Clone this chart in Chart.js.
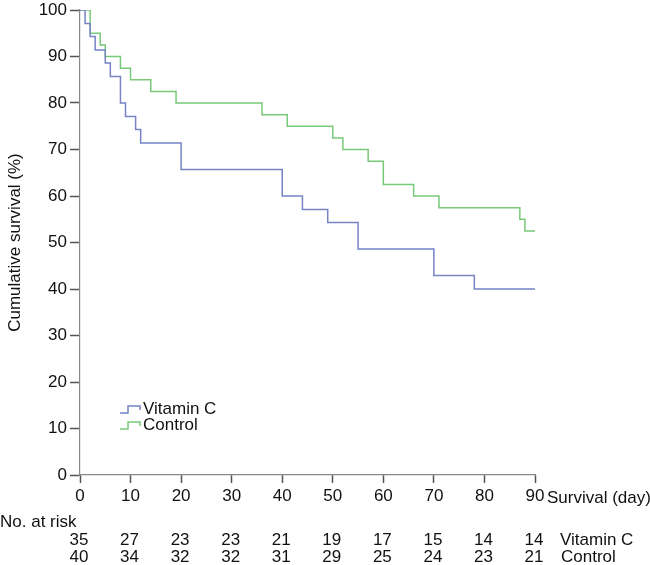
<!DOCTYPE html>
<html>
<head>
<meta charset="utf-8">
<script src="https://cdn.jsdelivr.net/npm/chart.js@4.4.0/dist/chart.umd.min.js"></script>
<style>
  html, body { margin: 0; padding: 0; background: #fff; }
  #wrap { width: 650px; height: 565px; }
</style>
</head>
<body>
<div id="wrap"><canvas id="km"></canvas></div>
<script>
// Kaplan-Meier steps (day, survival %)
const vitCDays = [0, 1, 2, 3, 5, 6, 8, 9, 11, 12, 20, 40, 44, 49, 55, 70, 78, 90];
const vitCSurv = [100, 97.1, 94.3, 91.4, 88.6, 85.7, 80.0, 77.1, 74.3, 71.4, 65.7, 60.0, 57.1, 54.3, 48.6, 42.9, 40.0, 40.0];
const ctrlDays = [0, 2, 4, 5, 8, 10, 14, 19, 36, 41, 50, 52, 57, 60, 66, 71, 87, 88, 90];
const ctrlSurv = [100, 95.0, 92.5, 90.0, 87.5, 85.0, 82.5, 80.0, 77.5, 75.0, 72.5, 70.0, 67.5, 62.5, 60.0, 57.5, 55.0, 52.5, 52.5];

// number at risk table
const riskDays = [0, 10, 20, 30, 40, 50, 60, 70, 80, 90];
const riskVitC = [35, 27, 23, 23, 21, 19, 17, 15, 14, 14];
const riskCtrl = [40, 34, 32, 32, 31, 29, 25, 24, 23, 21];

const xTicks = [0, 10, 20, 30, 40, 50, 60, 70, 80, 90];
const yTicks = [0, 10, 20, 30, 40, 50, 60, 70, 80, 90, 100];

const blue = "#7684c6";
const green = "#78c978";
const font = "Liberation Sans, Arial, Helvetica, sans-serif";

function toPoints(days, surv) {
    return days.map((d, i) => ({ x: d, y: surv[i] }));
}

// draws the legend, axis title and the at-risk rows
const extras = {
    id: "extras",
    afterDraw(chart) {
        const ctx = chart.ctx;
        const xs = chart.scales.x;
        const area = chart.chartArea;
        ctx.save();
        ctx.font = "17px " + font;
        ctx.fillStyle = "#111";
        ctx.textBaseline = "middle";

        // x axis title after the last tick
        ctx.textAlign = "left";
        ctx.fillText("Survival (day)", area.right + 12, 498);

        // no. at risk
        ctx.fillText("No. at risk", 0, 522);
        ctx.textAlign = "center";
        riskDays.forEach((d, i) => {
            const px = xs.getPixelForValue(d) - 1;
            ctx.fillText(String(riskVitC[i]), px, 540);
            ctx.fillText(String(riskCtrl[i]), px, 557);
        });
        ctx.textAlign = "left";
        ctx.fillText("Vitamin C", area.right + 25, 540);
        ctx.fillText("Control", area.right + 26, 557);

        // legend with small step glyphs
        const items = [["Vitamin C", blue, 409], ["Control", green, 425]];
        items.forEach(([label, color, y]) => {
            ctx.strokeStyle = color;
            ctx.lineWidth = 1.5;
            ctx.beginPath();
            ctx.moveTo(120, y + 4);
            ctx.lineTo(128, y + 4);
            ctx.lineTo(128, y - 3);
            ctx.lineTo(140, y - 3);
            ctx.lineTo(140, y + 1);
            ctx.stroke();
            ctx.fillStyle = "#111";
            ctx.fillText(label, 143, y);
        });
        ctx.restore();
    }
};

new Chart(document.getElementById("km"), {
    type: "line",
    data: {
        datasets: [
            {
                label: "Vitamin C",
                data: toPoints(vitCDays, vitCSurv),
                borderColor: blue,
                borderWidth: 1.5,
                stepped: "before",
                pointRadius: 0,
                fill: false
            },
            {
                label: "Control",
                data: toPoints(ctrlDays, ctrlSurv),
                borderColor: green,
                borderWidth: 1.5,
                stepped: "before",
                pointRadius: 0,
                fill: false
            }
        ]
    },
    options: {
        responsive: true,
        maintainAspectRatio: false,
        animation: false,
        layout: { padding: { top: 10, right: 115, left: 0, bottom: 0 } },
        scales: {
            x: {
                type: "linear",
                min: 0,
                max: 90,
                afterFit(scale) { scale.height = 90; scale.paddingLeft = 0; scale.paddingRight = 0; },
                afterBuildTicks(scale) { scale.ticks = xTicks.map(v => ({ value: v })); },
                grid: { display: true, drawOnChartArea: false, drawTicks: true, tickLength: 8, tickColor: "#555", tickWidth: 1.5 },
                border: { display: true, color: "#888", width: 1.2 },
                ticks: {
                    color: "#111",
                    font: { family: font, size: 17 },
                    padding: 3,
                    maxRotation: 0
                }
            },
            y: {
                min: 0,
                max: 100,
                afterFit(scale) { scale.width = 80; scale.paddingTop = 0; scale.paddingBottom = 0; },
                afterBuildTicks(scale) { scale.ticks = yTicks.map(v => ({ value: v })); },
                grid: { display: true, drawOnChartArea: false, drawTicks: true, tickLength: 10, tickColor: "#555", tickWidth: 1.5 },
                border: { display: true, color: "#888", width: 1.2 },
                title: {
                    display: true,
                    text: "Cumulative survival (%)",
                    color: "#111",
                    font: { family: font, size: 17 },
                    padding: { top: 5, bottom: 2 }
                },
                ticks: {
                    color: "#111",
                    font: { family: font, size: 17 },
                    padding: 3
                }
            }
        },
        plugins: {
            legend: { display: false },
            tooltip: { enabled: false }
        }
    },
    plugins: [extras]
});
</script>
</body>
</html>
